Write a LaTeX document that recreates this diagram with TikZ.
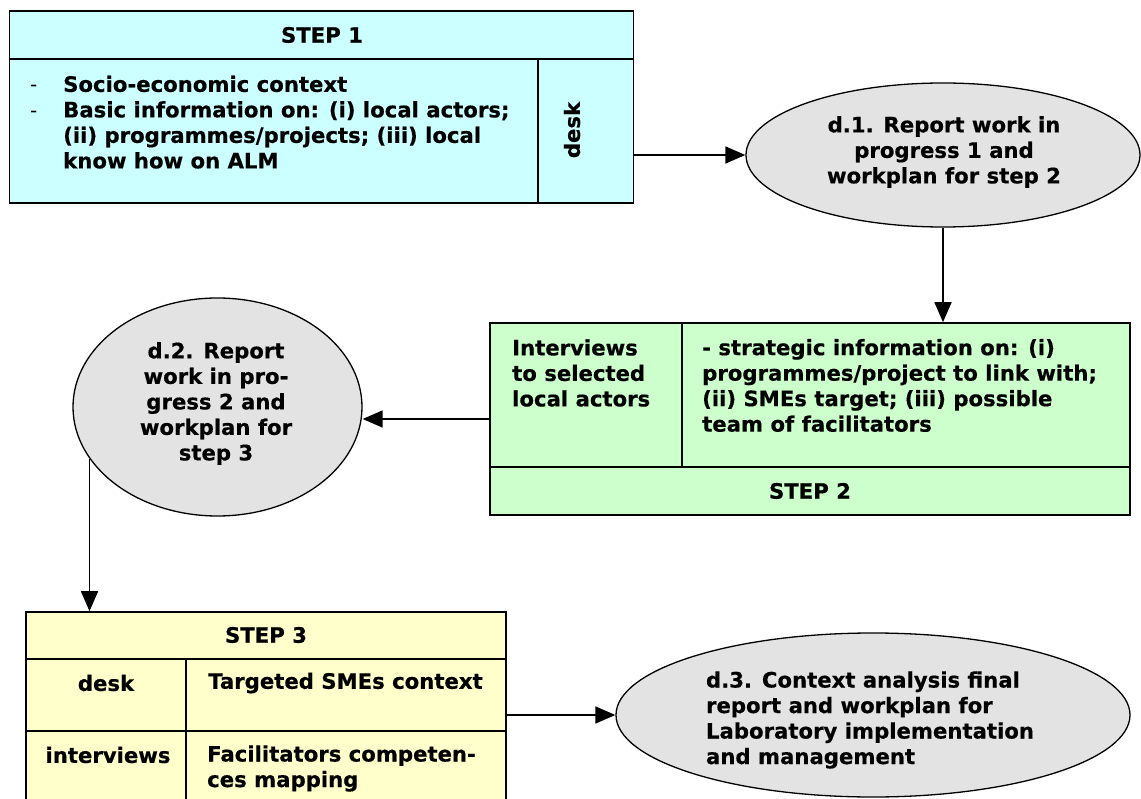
\documentclass[tikz,border=0pt]{standalone}
\usepackage{fontspec}
\setmainfont{DejaVu Sans}
\newfontfamily\heavyface{DejaVu Sans Bold}[FakeBold=0.5]
\usetikzlibrary{arrows.meta,shapes.geometric}

\definecolor{stepone}{HTML}{CCFFFF}
\definecolor{steptwo}{HTML}{CCFFCC}
\definecolor{stepthree}{HTML}{FFFFCC}
\definecolor{deliv}{HTML}{E3E3E3}

\tikzset{
  boxframe/.style={draw=black, line width=1.6pt, rectangle, inner sep=0pt},
  cellline/.style={draw=black, line width=1.6pt},
  txt/.style={font=\fontsize{21.2}{25.5}\selectfont\heavyface, inner sep=0pt, align=left},
  ctxt/.style={txt, align=center},
  deliverable/.style={ellipse, draw=black, line width=1.3pt, fill=deliv, inner sep=0pt},
  flow/.style={draw=black, line width=1.5pt, -{Triangle[length=20pt,width=17pt]}},
}

\begin{document}
\begin{tikzpicture}[x=1pt, y=-1pt]
\clip (0,0) rectangle (1141,799);
\fill[white] (0,0) rectangle (1141,799);

% ---------------- STEP 1 ----------------
\node[boxframe, fill=stepone, minimum width=624pt, minimum height=192pt] (s1) at (321.5,107) {};
\draw[cellline] (10,59) -- (633,59);
\draw[cellline] (538,59) -- (538,203);
\node[ctxt] (s1title) at (322,35) {STEP 1};
\node[txt, anchor=west] (s1body) at (30,125) {%
  \begin{tabular}{@{}p{33pt}@{}l@{}}
  {\mdseries\fontsize{20}{25.5}\fontspec{DejaVu Sans}-} & Socio-economic context\\
  {\mdseries\fontsize{20}{25.5}\fontspec{DejaVu Sans}-} & Basic information on: (i) local actors;\\
   & (ii) programmes/projects; (iii) local\\
   & know how on ALM
  \end{tabular}};
\node[ctxt, rotate=90] (s1desk) at (572,130) {desk};

% ---------------- d.1 ----------------
\node[deliverable, minimum width=394pt, minimum height=144pt] (e1) at (943,155) {};
\node[ctxt] (e1t) at (944,152) {d.1. Report work in\\progress 1 and\\workplan for step 2};

% ---------------- STEP 2 ----------------
\node[boxframe, fill=steptwo, minimum width=640pt, minimum height=192pt] (s2) at (810,419) {};
\draw[cellline] (490,467) -- (1130,467);
\draw[cellline] (682,323) -- (682,467);
\node[txt, anchor=west] (s2who) at (512,373) {Interviews\\to selected\\local actors};
\node[txt, anchor=west] (s2what) at (702,385.5) {- strategic information on: (i)\\programmes/project to link with;\\(ii) SMEs target; (iii) possible\\team of facilitators};
\node[ctxt] (s2title) at (810,491) {STEP 2};

% ---------------- d.2 ----------------
\node[deliverable, minimum width=289pt, minimum height=218pt] (e2) at (217.5,407) {};
\node[ctxt] (e2t) at (216,403.5) {d.2. Report\\work in pro-\\gress 2 and\\workplan for\\step 3};

% ---------------- STEP 3 ----------------
\node[boxframe, fill=stepthree, minimum width=480pt, minimum height=200pt] (s3) at (266,712) {};
\draw[cellline] (26,659) -- (506,659);
\draw[cellline] (26,731) -- (506,731);
\draw[cellline] (186,659) -- (186,812);
\node[ctxt] (s3title) at (266,635) {STEP 3};
\node[ctxt] (s3desk) at (106,683) {desk};
\node[txt, anchor=west] (s3ctx) at (208,683) {Targeted SMEs context};
\node[ctxt] (s3int) at (108,755) {interviews};
\node[txt, anchor=west] (s3fac) at (207,768.5) {Facilitators competen-\\ces mapping};

% ---------------- d.3 ----------------
\node[deliverable, minimum width=514pt, minimum height=164pt] (e3) at (873,715) {};
\node[txt] (e3t) at (870,720) {d.3. Context analysis final\\report and workplan for\\Laboratory implementation\\and management};

% ---------------- flow ----------------
\draw[flow] (s1.east |- e1.west) -- (e1.west);
\draw[flow] (e1.south) -- (e1.south |- s2.north);
\draw[flow] (s2.west) -- (e2.east |- s2.west);
\draw[flow] (e2.202) -- (e2.202 |- s3.north);
\draw[flow] (s3.east |- e3.west) -- (e3.west);
\end{tikzpicture}
\end{document}
